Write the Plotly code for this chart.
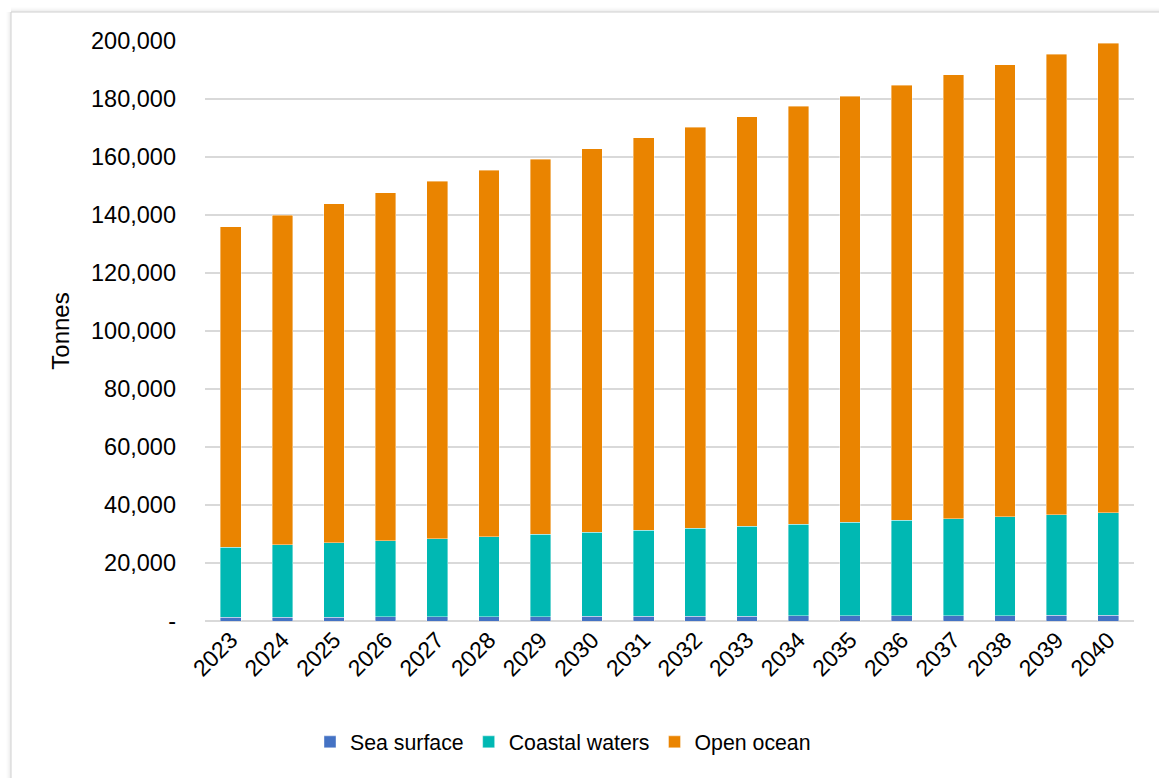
import plotly.graph_objects as go

years = [str(y) for y in range(2023, 2041)]
sea_surface = [1300, 1330, 1370, 1410, 1450, 1490, 1530, 1570, 1610, 1650, 1690, 1730, 1770, 1810, 1850, 1890, 1930, 1970]
coastal_waters = [24100, 24970, 25630, 26290, 26950, 27610, 28370, 29030, 29690, 30350, 31010, 31570, 32230, 32890, 33450, 34110, 34770, 35330]
open_ocean = [110600, 113600, 116800, 120000, 123200, 126300, 129300, 132300, 135300, 138200, 141200, 144200, 147000, 150000, 153000, 155800, 158800, 161900]

y_tickvals = [0, 20000, 40000, 60000, 80000, 100000, 120000, 140000, 160000, 180000, 200000]
y_ticktext = ["-", "20,000", "40,000", "60,000", "80,000", "100,000", "120,000",
              "140,000", "160,000", "180,000", "200,000"]

colors = {"Sea surface": "#4472C4", "Coastal waters": "#00B8B3", "Open ocean": "#EA8400"}

fig = go.Figure()
for name, vals in [("Sea surface", sea_surface), ("Coastal waters", coastal_waters), ("Open ocean", open_ocean)]:
    fig.add_trace(go.Bar(x=years, y=vals, name=name,
                         marker=dict(color=colors[name], line=dict(color="rgba(255,255,255,0.5)", width=0.8))))

W, H = 1159, 778
L, R, T, B = 205, 25, 41, 157
pw, ph = W - L - R, H - T - B

def px(x):
    return (x - L) / pw

def py(y):
    return (H - B - y) / ph

shapes = []
# frame border with soft shadow (left and top edges)
for i, c in enumerate(["#e6e6e6", "#efefef", "#f5f5f5", "#fafafa"]):
    off = i + 1
    shapes.append(dict(type="line", xref="paper", yref="paper", x0=px(11 - off), x1=px(11 - off),
                       y0=py(12), y1=py(H + 5), line=dict(color=c, width=1)))
    shapes.append(dict(type="line", xref="paper", yref="paper", x0=px(11), x1=px(W + 5),
                       y0=py(12 - off), y1=py(12 - off), line=dict(color=c, width=1)))
shapes.append(dict(type="line", xref="paper", yref="paper", x0=px(11), x1=px(11),
                   y0=py(12), y1=py(H + 5), line=dict(color="#cfcfcf", width=1)))
shapes.append(dict(type="line", xref="paper", yref="paper", x0=px(11), x1=px(W + 5),
                   y0=py(12), y1=py(12), line=dict(color="#cfcfcf", width=1)))

fig.update_layout(
    barmode="stack",
    bargap=0.6,
    width=W, height=H,
    margin=dict(l=L, r=R, t=T, b=B, pad=0),
    paper_bgcolor="white",
    plot_bgcolor="white",
    font=dict(family="Liberation Sans, Arial, sans-serif", size=23, color="#000000"),
    shapes=shapes,
    legend=dict(orientation="h", x=px(563), xanchor="center", y=py(742), yanchor="middle",
                font=dict(size=21.3), traceorder="normal", itemwidth=30, bgcolor="rgba(0,0,0,0)"),
    xaxis=dict(type="category", tickangle=-45, showgrid=False, ticks="", showline=False,
               tickfont=dict(size=23)),
    yaxis=dict(range=[0, 200000], tickvals=y_tickvals, ticktext=y_ticktext,
               showgrid=True, gridcolor="#d9d9d9", gridwidth=1.5,
               zeroline=True, zerolinecolor="#d9d9d9", zerolinewidth=1.5,
               ticks="", ticklabelstandoff=28, tickfont=dict(size=23.5),
               title=dict(text="Tonnes", font=dict(size=24), standoff=14)),
)

fig.write_html("out.html")
